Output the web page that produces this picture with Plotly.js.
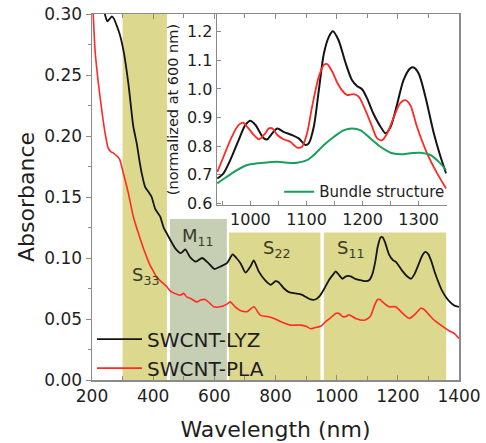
<!DOCTYPE html>
<html><head><meta charset="utf-8">
<script src="https://cdn.plot.ly/plotly-3.0.1.min.js"></script>
<style>html,body{margin:0;padding:0;background:#fff}</style>
</head><body><div id="chart" style="width:486px;height:443px"></div>
<script>
// ---- main panel data ----
const wlLYZ = [238,243,250,258,265,272,280,290,303,319,335,347,355,363,374,385,395,407,423,434,445,460,475,490,505,520,540,560,580,600,620,642,660,672,685,702,718,729,745,765,784,800,811,828,844,866,885,900,915,930,945,960,975,990,997,1008,1019,1030,1046,1060,1073,1095,1107,1117,1127,1134,1144,1150,1158,1171,1185,1193,1205,1216,1230,1243,1255,1265,1280,1290,1300,1310,1320,1330,1345,1357,1370,1385,1400];
const absLYZ = [0.305,0.299,0.294,0.296,0.298,0.296,0.291,0.284,0.270,0.243,0.208,0.193,0.180,0.169,0.158,0.154,0.150,0.140,0.134,0.125,0.120,0.113,0.107,0.104,0.107,0.101,0.097,0.100,0.096,0.091,0.093,0.096,0.103,0.100,0.096,0.088,0.093,0.098,0.089,0.082,0.078,0.081,0.080,0.075,0.072,0.071,0.070,0.068,0.066,0.066,0.069,0.075,0.082,0.087,0.089,0.086,0.083,0.085,0.085,0.083,0.082,0.081,0.082,0.087,0.098,0.109,0.117,0.117,0.113,0.103,0.098,0.097,0.093,0.089,0.085,0.083,0.087,0.093,0.102,0.105,0.103,0.097,0.089,0.082,0.073,0.068,0.064,0.061,0.060];
const wlPLA = [200,204,210,221,232,243,253,262,270,280,290,303,319,335,352,368,390,401,412,434,445,456,470,489,500,510,521,543,555,570,585,598,620,640,652,668,685,707,729,751,773,795,816,849,882,900,915,930,948,965,980,997,1008,1019,1030,1040,1062,1090,1105,1112,1125,1134,1142,1150,1171,1193,1216,1238,1259,1275,1285,1300,1319,1335,1352,1370,1385,1400];
const absPLA = [0.315,0.300,0.270,0.243,0.221,0.202,0.190,0.187,0.186,0.184,0.181,0.169,0.153,0.134,0.120,0.108,0.094,0.089,0.084,0.079,0.0765,0.073,0.071,0.0695,0.071,0.068,0.067,0.064,0.0655,0.066,0.063,0.060,0.060,0.062,0.064,0.060,0.057,0.056,0.060,0.053,0.052,0.0505,0.048,0.045,0.045,0.044,0.042,0.043,0.044,0.048,0.051,0.0546,0.0546,0.052,0.052,0.0535,0.0505,0.049,0.051,0.053,0.062,0.066,0.066,0.064,0.060,0.060,0.0546,0.0505,0.0546,0.0588,0.058,0.054,0.049,0.046,0.043,0.040,0.038,0.034];

// transition bands
const bandNames = ['S<sub>33</sub>','M<sub>11</sub>','S<sub>22</sub>','S<sub>11</sub>'];
const bandStart = [300,455,648,958];
const bandEnd   = [445,641,947,1358];
const bandTop   = [0.30,0.132,0.121,0.121];
const bandLabelX = [374,548,803,1046];
const bandLabelY = [0.085,0.117,0.107,0.107];
const bandKind = ['semi','metal','semi','semi'];

// ---- inset data (normalized at 600 nm) ----
const inWlLYZ = [941,952,964,979,991,1000,1009,1024,1030,1039,1048,1059,1074,1086,1098,1104,1113,1122,1131,1140,1147,1157,1169,1181,1190,1199,1208,1219,1232,1241,1250,1262,1273,1285,1291,1300,1312,1327,1339,1349];
const inLYZ = [0.687,0.705,0.751,0.821,0.874,0.889,0.874,0.827,0.824,0.845,0.862,0.850,0.839,0.827,0.804,0.810,0.868,0.996,1.124,1.183,1.202,1.171,1.095,1.031,1.010,0.999,0.967,0.915,0.868,0.845,0.868,0.950,1.031,1.072,1.075,1.054,0.973,0.845,0.763,0.705];
const inWlPLA = [941,952,967,979,987,994,1006,1015,1024,1033,1039,1048,1059,1071,1083,1092,1101,1110,1122,1131,1137,1146,1154,1163,1172,1184,1193,1205,1217,1226,1235,1244,1256,1267,1276,1285,1297,1315,1333,1349];
const inPLA = [0.710,0.763,0.833,0.874,0.882,0.868,0.839,0.824,0.839,0.862,0.862,0.839,0.824,0.815,0.795,0.798,0.845,0.938,1.043,1.084,1.087,1.060,1.025,0.996,0.979,0.982,0.973,0.926,0.868,0.827,0.821,0.845,0.903,0.950,0.961,0.944,0.868,0.775,0.705,0.652];
const inWlBundle = [941,958,976,994,1012,1030,1048,1065,1083,1101,1113,1131,1149,1167,1181,1196,1214,1232,1250,1267,1285,1303,1321,1336,1349];
const inBundle = [0.670,0.693,0.716,0.734,0.740,0.743,0.745,0.742,0.742,0.751,0.769,0.804,0.833,0.856,0.862,0.856,0.827,0.798,0.777,0.772,0.775,0.777,0.769,0.745,0.716];

const seriesNames = ['SWCNT-LYZ','SWCNT-PLA','Bundle structure'];

const FONT = 'DejaVu Sans, Arial, sans-serif';
const BLACK = '#141414', RED = '#ff2a24', GREEN = '#17a05a';
const AXC = '#8a8a8a', TXT = '#1e1e1e';

const traces = [
  {x: wlLYZ, y: absLYZ, type:'scatter', mode:'lines', name: seriesNames[0],
   line:{color:BLACK, width:1.8, shape:'spline', smoothing:0.6}, xaxis:'x', yaxis:'y', legend:'legend'},
  {x: wlPLA, y: absPLA, type:'scatter', mode:'lines', name: seriesNames[1],
   line:{color:RED, width:1.6, shape:'spline', smoothing:0.6}, xaxis:'x', yaxis:'y', legend:'legend'},
  {x: inWlLYZ, y: inLYZ, type:'scatter', mode:'lines', showlegend:false,
   line:{color:BLACK, width:2, shape:'spline', smoothing:0.8}, xaxis:'x2', yaxis:'y2'},
  {x: inWlPLA, y: inPLA, type:'scatter', mode:'lines', showlegend:false,
   line:{color:RED, width:1.8, shape:'spline', smoothing:0.8}, xaxis:'x2', yaxis:'y2'},
  {x: inWlBundle, y: inBundle, type:'scatter', mode:'lines', name: seriesNames[2],
   line:{color:GREEN, width:2, shape:'spline', smoothing:0.8}, xaxis:'x2', yaxis:'y2', legend:'legend2'}
];

const shapes = bandStart.map((s,i)=>({
  type:'rect', xref:'x', yref:'y', x0:s, x1:bandEnd[i], y0:0, y1:bandTop[i],
  fillcolor: bandKind[i]==='metal' ? '#c6cfb3' : '#dcd88e', line:{width:0}, layer:'below'
}));

const annotations = bandNames.map((t,i)=>({
  text:t, x:bandLabelX[i], y:bandLabelY[i], xref:'x', yref:'y', showarrow:false,
  font:{family:FONT, size:18, color:'#3a3a2a'}
}));

const layout = {
  width:486, height:443,
  margin:{l:92, r:27, t:14, b:63},
  paper_bgcolor:'#fff', plot_bgcolor:'rgba(0,0,0,0)',
  font:{family:FONT, color:TXT},
  showlegend:true,
  xaxis:{domain:[0,1], range:[200,1400], tickvals:[200,400,600,800,1000,1200,1400],
    ticks:'inside', ticklen:5, tickcolor:AXC, showline:true, linecolor:AXC, linewidth:1.5, mirror:'ticks',
    minor:{dtick:100, tick0:200, ticks:'inside', ticklen:4, tickcolor:AXC},
    showgrid:false, zeroline:false, tickfont:{size:17, color:TXT},
    title:{text:'Wavelength (nm)', font:{size:22, color:TXT}, standoff:16}},
  yaxis:{domain:[0,1], range:[0,0.30], dtick:0.05, tick0:0, tickformat:'.2f',
    ticks:'outside', ticklen:5, tickcolor:AXC, showline:true, linecolor:AXC, linewidth:1.5, mirror:true,
    minor:{dtick:0.025, ticks:'outside', ticklen:3, tickcolor:AXC},
    showgrid:false, zeroline:false, tickfont:{size:17, color:TXT},
    title:{text:'Absorbance', font:{size:22, color:TXT}, standoff:3}},
  yaxis3:{overlaying:'y', side:'right', anchor:'x', range:[0,0.30], dtick:0.05, tick0:0,
    ticks:'inside', ticklen:5, tickcolor:AXC, showticklabels:false, showline:false,
    minor:{dtick:0.025, ticks:'inside', ticklen:3, tickcolor:AXC},
    showgrid:false, zeroline:false},
  xaxis2:{domain:[0.340,0.9665], anchor:'y2', range:[940,1350], tickvals:[1000,1100,1200,1300],
    ticks:'inside', ticklen:4, tickcolor:AXC, showline:true, linecolor:AXC, linewidth:1.2,
    minor:{dtick:50, tick0:950, ticks:'inside', ticklen:4, tickcolor:AXC},
    showgrid:false, zeroline:false, tickfont:{size:16, color:TXT}},
  yaxis2:{domain:[0.478,1], anchor:'x2', range:[0.594,1.262], dtick:0.1, tick0:0.6, tickformat:'.1f',
    ticks:'inside', ticklen:4, tickcolor:AXC, showline:true, linecolor:AXC, linewidth:1.2,
    showgrid:false, zeroline:false, tickfont:{size:16, color:TXT},
    title:{text:'(normalized at 600 nm)', font:{size:14.5, color:TXT}, standoff:4}},
  legend:{x:0.0, y:0.072, xanchor:'left', yanchor:'middle', bgcolor:'rgba(0,0,0,0)',
    font:{size:20, color:TXT}, itemwidth:45, tracegroupgap:0},
  legend2:{x:0.51, y:0.514, xanchor:'left', yanchor:'middle', bgcolor:'rgba(0,0,0,0)',
    font:{size:15, color:TXT}, itemwidth:30},
  shapes: shapes,
  annotations: annotations
};

Plotly.newPlot('chart', traces, layout, {displayModeBar:false, staticPlot:true});
</script></body></html>
